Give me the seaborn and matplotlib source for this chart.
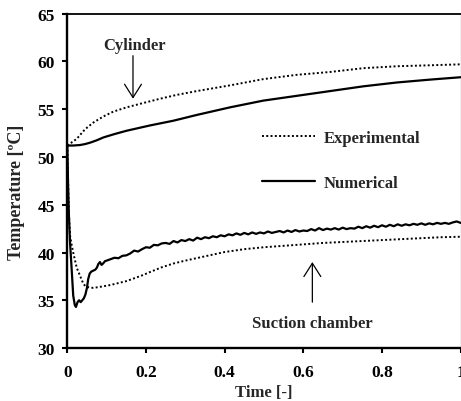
import numpy as np
import pandas as pd
import seaborn as sns
import matplotlib
matplotlib.use("Agg")
import matplotlib.pyplot as plt

# Cylinder temperature: measured and simulated
cyl_exp_t = [0.0, 0.024, 0.045, 0.066, 0.092, 0.117, 0.151, 0.193, 0.236, 0.278,
             0.329, 0.414, 0.498, 0.583, 0.668, 0.753, 0.838, 0.922, 1.0]
cyl_exp_T = [51.2, 51.9, 52.9, 53.6, 54.25, 54.75, 55.2, 55.65, 56.1, 56.5,
             56.9, 57.5, 58.15, 58.6, 58.9, 59.3, 59.5, 59.6, 59.7]

cyl_num_t = [0.0, 0.015, 0.032, 0.045, 0.058, 0.075, 0.092, 0.12, 0.151, 0.21,
             0.27, 0.329, 0.414, 0.498, 0.583, 0.668, 0.753, 0.838, 0.922, 1.0]
cyl_num_T = [51.2, 51.2, 51.25, 51.35, 51.5, 51.75, 52.05, 52.4, 52.75, 53.3,
             53.8, 54.4, 55.2, 55.9, 56.4, 56.9, 57.4, 57.8, 58.1, 58.35]

# Suction chamber temperature: measured and simulated
suc_exp_t = [0.0, 0.002, 0.004, 0.007, 0.011, 0.015, 0.02, 0.024, 0.028, 0.032,
             0.037, 0.041, 0.047, 0.055, 0.065, 0.075, 0.09, 0.11, 0.13, 0.15,
             0.17, 0.19, 0.21, 0.24, 0.27, 0.3, 0.35, 0.4, 0.45, 0.5, 0.55,
             0.6, 0.65, 0.7, 0.75, 0.8, 0.85, 0.9, 0.95, 1.0]
suc_exp_T = [51.2, 47.5, 44.0, 41.75, 40.8, 40.0, 39.1, 38.4, 38.0, 37.6,
             37.1, 36.7, 36.45, 36.35, 36.3, 36.35, 36.45, 36.6, 36.8, 37.0,
             37.3, 37.6, 37.95, 38.45, 38.85, 39.15, 39.6, 40.05, 40.35, 40.55, 40.7,
             40.85, 41.0, 41.1, 41.2, 41.3, 41.4, 41.5, 41.6, 41.65]

suc_num_t_start = [0.0, 0.002, 0.004, 0.007, 0.011, 0.015, 0.019, 0.022, 0.026, 0.03,
                   0.034, 0.038, 0.042, 0.046, 0.05, 0.053, 0.057, 0.061, 0.066,
                   0.071, 0.075, 0.079, 0.083, 0.087, 0.091, 0.096]
suc_num_T_start = [51.2, 47.0, 44.0, 41.0, 38.3, 35.5, 34.5, 34.3, 34.8, 35.0,
                   34.8, 35.0, 35.2, 35.6, 36.3, 37.2, 37.8, 38.0, 38.1,
                   38.2, 38.4, 38.8, 39.0, 38.7, 38.85, 39.1]
suc_num_t_rest = [round(0.10 + 0.01 * i, 2) for i in range(91)]
suc_num_T_rest = [
    39.15, 39.30, 39.45, 39.40, 39.65, 39.70, 39.90, 40.20, 40.10, 40.35,
    40.55, 40.50, 40.80, 40.75, 40.95, 41.00, 40.90, 41.20, 41.05, 41.30,
    41.20, 41.40, 41.25, 41.55, 41.40, 41.60, 41.50, 41.70, 41.60, 41.80,
    41.70, 41.90, 41.80, 42.00, 41.85, 42.05, 41.90, 42.10, 41.95, 42.10,
    42.00, 42.20, 42.05, 42.15, 42.25, 42.10, 42.30, 42.15, 42.35, 42.20,
    42.30, 42.25, 42.45, 42.30, 42.55, 42.35, 42.50, 42.40, 42.55, 42.40,
    42.60, 42.45, 42.55, 42.50, 42.70, 42.55, 42.75, 42.60, 42.80, 42.65,
    42.85, 42.70, 42.90, 42.75, 42.95, 42.80, 42.95, 42.85, 43.00, 42.90,
    43.05, 42.90, 43.05, 42.95, 43.10, 43.00, 43.10, 43.00, 43.15, 43.25,
    43.10,
]
suc_num_t = suc_num_t_start + suc_num_t_rest
suc_num_T = suc_num_T_start + suc_num_T_rest

x_ticks = [0, 0.2, 0.4, 0.6, 0.8, 1]
x_tick_labels = ["0", "0.2", "0.4", "0.6", "0.8", "1"]
y_ticks = [30, 35, 40, 45, 50, 55, 60, 65]

sns.set_style("ticks")
plt.rcParams["font.family"] = ["Liberation Serif", "DejaVu Serif"]
plt.rcParams["font.weight"] = "bold"

fig = plt.figure(figsize=(4.61, 4.02), dpi=100)
ax = fig.add_axes([0.146, 0.1318, 0.8532, 0.8316])

dotted = (0, (1, 1.2))
lw = 1.6

sns.lineplot(x=cyl_exp_t, y=cyl_exp_T, ax=ax, color="black", lw=1.4,
             linestyle=dotted, estimator=None, label="Experimental")
sns.lineplot(x=cyl_num_t, y=cyl_num_T, ax=ax, color="black", lw=lw,
             estimator=None, label="Numerical")
sns.lineplot(x=suc_exp_t, y=suc_exp_T, ax=ax, color="black", lw=1.4,
             linestyle=dotted, estimator=None)
sns.lineplot(x=suc_num_t, y=suc_num_T, ax=ax, color="black", lw=lw,
             estimator=None)

ax.set_xlim(0, 1)
ax.set_ylim(30, 65)
ax.set_xticks(x_ticks)
ax.set_xticklabels(x_tick_labels)
ax.set_yticks(y_ticks)
ax.tick_params(axis="both", direction="out", length=3.5, width=1.5,
               labelsize=12.5, colors="black")
ax.tick_params(axis="x", pad=8)
ax.tick_params(axis="y", pad=5.5)
for lab in ax.get_xticklabels() + ax.get_yticklabels():
    lab.set_fontweight("bold")

for side in ["left", "bottom"]:
    ax.spines[side].set_linewidth(1.7)
ax.spines["top"].set_linewidth(1.3)
ax.spines["right"].set_linewidth(0.8)
for s in ax.spines.values():
    s.set_color("black")

ax.set_xlabel("Time [-]", fontsize=12, fontweight="bold")
ax.set_ylabel("Temperature [ºC]", fontsize=13, fontweight="bold")
ax.xaxis.set_label_coords(0.5, -0.108)
ax.yaxis.set_label_coords(-0.1075, 0.47)

leg = ax.legend(loc="upper left", bbox_to_anchor=(0.494, 0.652), frameon=False,
                borderpad=0, borderaxespad=0, handlelength=3.2,
                handletextpad=0.5, labelspacing=1.75,
                prop={"family": "Liberation Serif", "weight": "bold", "size": 12})

arrow = dict(arrowstyle="->,head_length=0.6,head_width=0.38", lw=0.9,
             color="black", shrinkA=0, shrinkB=0, mutation_scale=16)
ax.text(0.172, 61.75, "Cylinder", ha="center", va="center",
        fontsize=12, fontweight="bold")
ax.annotate("", xy=(0.167, 56.1), xytext=(0.167, 60.6), arrowprops=arrow)
ax.text(0.624, 32.6, "Suction chamber", ha="center", va="center",
        fontsize=12, fontweight="bold")
ax.annotate("", xy=(0.623, 39.0), xytext=(0.623, 34.8), arrowprops=arrow)

fig.savefig("out.png", dpi=100)
